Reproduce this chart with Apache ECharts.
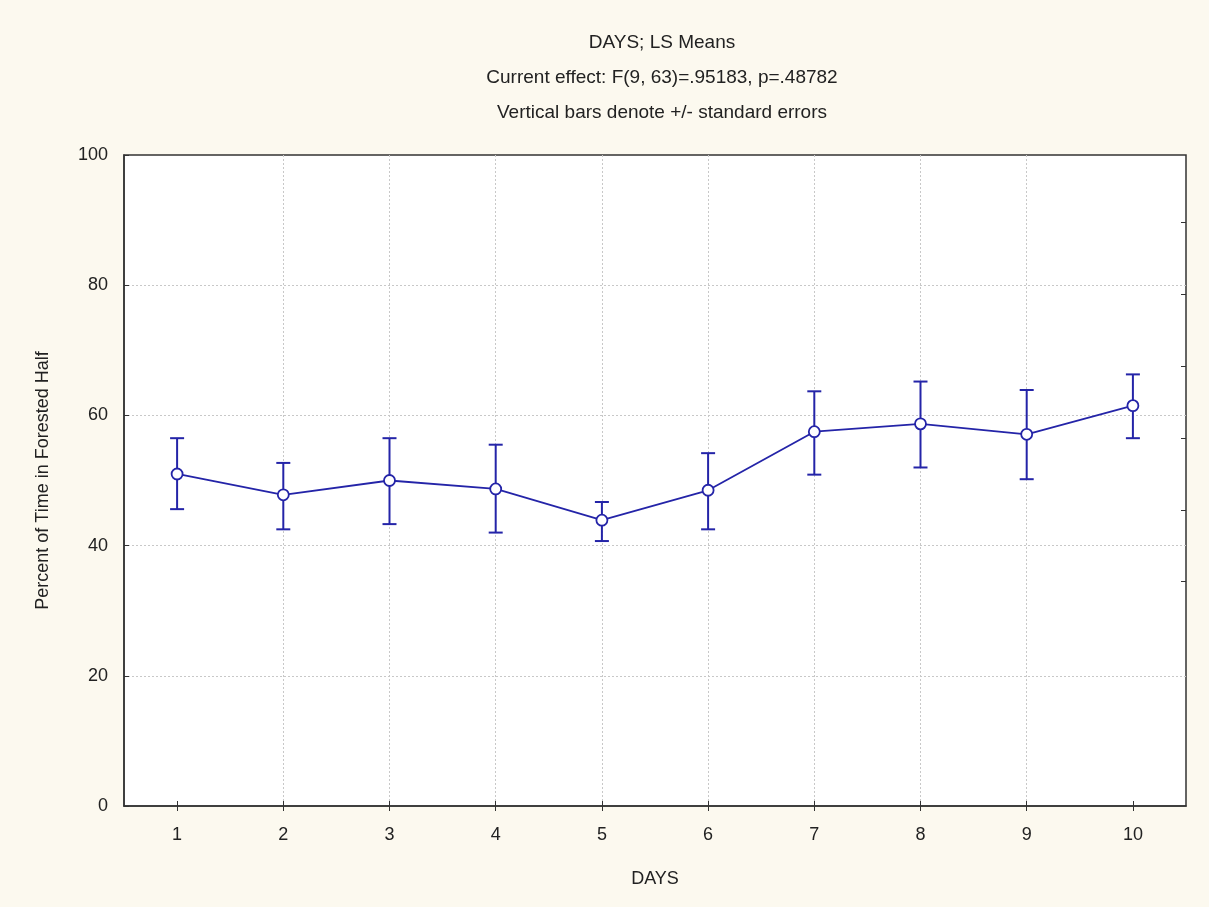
<!DOCTYPE html>
<html>
<head>
<meta charset="utf-8">
<script src="https://cdn.jsdelivr.net/npm/echarts@6/dist/echarts.min.js"></script>
<style>
html,body{margin:0;padding:0;background:#FCF9EF;}
#chart{width:1209px;height:907px;}
</style>
</head>
<body>
<div id="chart"></div>
<script>
const days = [1, 2, 3, 4, 5, 6, 7, 8, 9, 10];
const means = [51.0, 47.8, 50.0, 48.7, 43.9, 48.5, 57.5, 58.7, 57.1, 61.5];
const upper = [56.5, 52.7, 56.5, 55.5, 46.7, 54.2, 63.7, 65.2, 63.9, 66.3];
const lower = [45.6, 42.5, 43.3, 42.0, 40.7, 42.5, 50.9, 52.0, 50.2, 56.5];
const yTicks = [0, 20, 40, 60, 80, 100];
const rightTicks = [34.6, 45.5, 56.5, 67.5, 78.6, 89.7];
const titleLines = ['DAYS; LS Means', 'Current effect: F(9, 63)=.95183, p=.48782', 'Vertical bars denote +/- standard errors'];

const blue = '#2424A8';
const font = 'Liberation Sans, Arial, sans-serif';

const chart = echarts.init(document.getElementById('chart'));
const errData = days.map((d, i) => [d, lower[i], upper[i]]);
const lineData = days.map((d, i) => [d, means[i]]);
const gridLine = { show: true, showMinLine: false, showMaxLine: false, lineStyle: { color: '#c8c8c8', type: [2, 2], width: 1 } };

chart.setOption({
  backgroundColor: '#FCF9EF',
  animation: false,
  title: {
    text: titleLines.join('\n'),
    left: 657,
    textAlign: 'center',
    top: 20,
    textStyle: { fontFamily: font, fontSize: 19, fontWeight: 'normal', color: '#222', lineHeight: 35 }
  },
  grid: {
    left: 124, right: 23, top: 155, bottom: 101,
    show: true, backgroundColor: '#ffffff', borderColor: '#333', borderWidth: 1.5
  },
  xAxis: [{
    type: 'value', min: 0.5, max: 10.5,
    name: 'DAYS', nameLocation: 'middle', nameGap: 64,
    nameTextStyle: { fontFamily: font, fontSize: 18, color: '#222' },
    axisLine: { show: true, lineStyle: { color: '#333', width: 1.5 } },
    axisTick: { show: true, inside: true, length: 5, customValues: days, lineStyle: { color: '#333' } },
    axisLabel: { fontFamily: font, fontSize: 18, color: '#222', margin: 20, customValues: days },
    splitLine: gridLine
  }, {
    type: 'value', position: 'top', min: 0.5, max: 10.5,
    axisLine: { show: false },
    axisTick: { show: true, inside: true, length: 5, customValues: days, lineStyle: { color: '#333' } },
    axisLabel: { show: false },
    splitLine: { show: false }
  }],
  yAxis: [{
    type: 'value', min: 0, max: 100, interval: 20,
    name: 'Percent of Time in Forested Half', nameLocation: 'middle', nameGap: 72,
    nameTextStyle: { fontFamily: font, fontSize: 18, color: '#222' },
    axisLine: { show: true, lineStyle: { color: '#333', width: 1.5 } },
    axisTick: { show: true, inside: true, length: 5, customValues: yTicks, lineStyle: { color: '#333' } },
    axisLabel: { fontFamily: font, fontSize: 18, color: '#222', margin: 16, customValues: yTicks },
    splitLine: gridLine
  }, {
    type: 'value', position: 'right', min: 0, max: 100,
    axisLine: { show: false },
    axisTick: { show: true, inside: true, length: 5, customValues: rightTicks, lineStyle: { color: '#333' } },
    axisLabel: { show: false },
    splitLine: { show: false }
  }],
  series: [{
    type: 'custom',
    xAxisIndex: 0, yAxisIndex: 0,
    data: errData,
    z: 3,
    renderItem: function (params, api) {
      const x = api.value(0);
      const lo = api.coord([x, api.value(1)]);
      const hi = api.coord([x, api.value(2)]);
      const cw = 7;
      const style = { stroke: blue, lineWidth: 2 };
      return {
        type: 'group',
        children: [
          { type: 'line', shape: { x1: lo[0], y1: lo[1], x2: hi[0], y2: hi[1] }, style: style },
          { type: 'line', shape: { x1: lo[0] - cw, y1: lo[1], x2: lo[0] + cw, y2: lo[1] }, style: style },
          { type: 'line', shape: { x1: hi[0] - cw, y1: hi[1], x2: hi[0] + cw, y2: hi[1] }, style: style }
        ]
      };
    }
  }, {
    type: 'line',
    xAxisIndex: 0, yAxisIndex: 0,
    data: lineData,
    z: 4,
    symbol: 'circle', symbolSize: 11,
    lineStyle: { color: blue, width: 1.8 },
    itemStyle: { color: '#ffffff', borderColor: blue, borderWidth: 1.8 }
  }]
});
</script>
</body>
</html>
